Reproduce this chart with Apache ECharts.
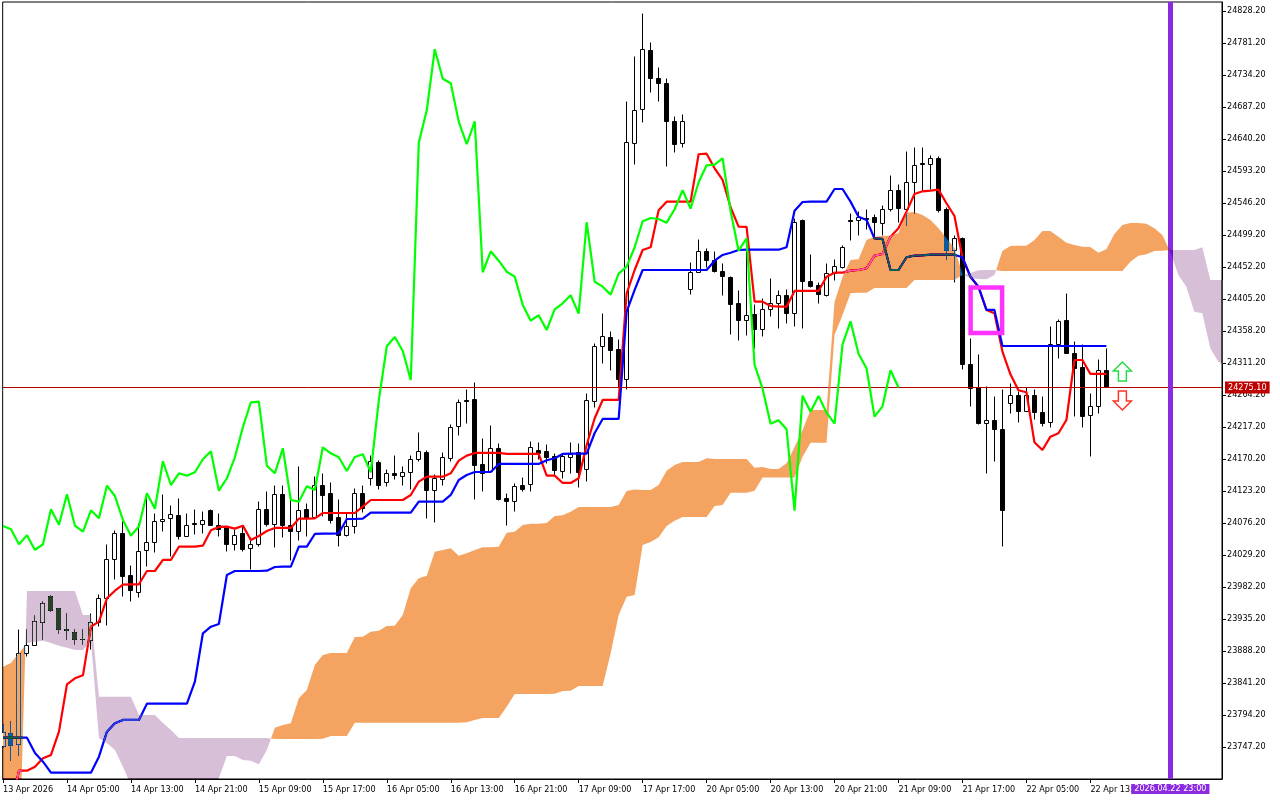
<!DOCTYPE html>
<html>
<head>
<meta charset="utf-8">
<style>html,body{margin:0;padding:0;background:#fff}#c{width:1280px;height:800px}</style>
<script src="https://cdn.jsdelivr.net/npm/echarts@6/dist/echarts.min.js"></script>
</head>
<body>
<div id="c"></div>
<script>
const opens = [23747.3,23767.3,23751.2,23884.3,23896,23930.4,23968.6,23949.9,23920,23914.7,23905.4,23903.4,23930.4,23965.6,24022.9,24061.1,23999.4,23973.9,24036.1,24047.9,24078.7,24083.1,24087.5,24056.7,24075.8,24074.3,
24094.9,24072.9,24069,24045,24060.1,24039.1,24045,24096.4,24073.7,24118.4,24072.9,24063.4,24095.3,24084,24130.6,24118.8,24083.6,24057.6,24070.8,24119.9,24141.9,24165.4,24135.4,24149.2,24144.2,24150.1,24169.8,24180.1,24123.7,24140.4,24170.7,24217.7,24256.4,24257.9,24162.5,24151.6,24186,24111.5,24107.5,24131.6,24132.5,24183,24180.5,24173.6,24151.6,24172.2,24180.1,24155.1,24255,24335.5,24349,24330.3,24286.3,24633.9,24683.9,24770.5,24729.4,24722.1,24666.2,24633.9,
24419.5,24444.5,24475.3,24462.1,24445.9,24437.1,24398.9,24374,24382.8,24360.7,24390.1,24398.3,24410.7,24383.7,24519.8,24431.2,24424.3,24410.7,24442,24452.2,24520.8,24520.2,24523.8,24524.2,24516.4,24536.4,24564.9,24536,24576.6,24603.5,24603.1,24611.9,24537,24476.2,24494.4,24309.3,24275.5,24222.7,24227.1,24213.9,24252,24263.8,24239.7,24262.8,24238.8,24224.2,24338.1,24374,24325.5,24304.9,24233.8,24247.6,24300.5];
const closes = [23767.8,23749.7,23884.9,23896,23930.8,23957.3,23948.4,23919.1,23917.6,23904.4,23904.4,23930.4,23965.6,24022.9,24061.1,23997.4,23976.8,24034.7,24047.9,24078.7,24081.7,24088.4,24055.7,24072.9,24074.3,24080.2,
24071.8,24067,24045,24058.2,24036.6,24045,24096.4,24073.7,24118.4,24072.3,24063.4,24094.9,24083.1,24131,24115.9,24080.6,24057.6,24071.4,24119.9,24097.2,24166.9,24132,24149.2,24145.7,24150.7,24169.8,24181.6,24123.7,24141.9,24172.7,24216.8,24253.5,24254.4,24160.4,24149.2,24186,24110,24107.5,24130.1,24124.7,24187.4,24178.6,24172.7,24152.6,24173.2,24177.1,24150.7,24256.4,24335.8,24349.4,24328.9,24286.3,24634.8,24682.4,24772,24728.8,24722.1,24665.7,24632.5,24666.2,
24444.5,24475.3,24461.5,24445.3,24438,24396.9,24373.4,24381.3,24359.7,24390.1,24398.9,24410.7,24383.7,24517.9,24430.6,24423.3,24411.6,24442.4,24452.7,24481.2,24519.4,24524.2,24522.7,24517.3,24537,24564.9,24537.9,24576.6,24601.6,24602.5,24611.9,24534.5,24476.2,24494.4,24308.3,24273.5,24222.1,24227.1,24213.9,24094.3,24263.2,24239.7,24262.8,24238.3,24222.1,24338.7,24372.5,24324.9,24303.5,24232.4,24247.6,24300.5,24275.1];
const highs = [23779.6,23784,23920.5,23919.1,23939.7,23960.2,23969,23949.9,23942.6,23920.5,23919.1,23942.6,23971.9,24043.9,24064.9,24078.2,24014.5,24074.8,24114.9,24089.5,24117.4,24101.2,24111.5,24089.5,24095.3,24092.8,
24095.3,24090.5,24070.4,24066,24070.8,24054.2,24107.5,24122.2,24132,24130.6,24110,24158.5,24104.2,24144.2,24148.2,24135,24110,24089.5,24126.2,24130.6,24174.7,24167.3,24154.1,24174.7,24158.9,24175.1,24208.4,24182,24146.8,24179.5,24221.6,24256.9,24271.6,24281.9,24199.6,24218.7,24193.3,24118.8,24133.5,24142.3,24195.6,24194.2,24190.8,24177.6,24176.1,24194.8,24192.3,24266.7,24339.2,24384.2,24357.2,24346,24696,24760.7,24823.8,24782.3,24745.6,24729.4,24673.6,24676.5,
24459.1,24491.9,24479.7,24475.3,24457.7,24438,24418,24474.3,24396.4,24406.3,24435.6,24417,24419.5,24523.8,24521.3,24469.9,24429.8,24457.7,24463.5,24483.1,24531.1,24533,24537,24528.6,24541.8,24585.9,24574.1,24622.2,24628,24628,24616.7,24614.2,24538.9,24498.8,24494.8,24347.5,24323,24276.4,24261.7,24272.6,24281.4,24269.1,24275.5,24271.6,24261.7,24364.6,24374.4,24413.6,24343.5,24338.7,24265.7,24315.7,24332.8];
const lows = [23745.8,23727.1,23734,23879.4,23895.6,23904.4,23945.5,23913.2,23904.4,23897.1,23897.1,23889.7,23923.5,23925.4,23992.5,23968,23960.6,23966.5,24012.1,24032.6,24063,24026.8,24052.3,24056.1,24058.6,24061.1,
24071.8,24056.1,24034.1,24035.6,24034.1,24007.2,24041.4,24070.8,24040,24054.7,24020.9,24050.3,24055.7,24082.1,24085.5,24074.8,24042.4,24056.1,24060.1,24091.4,24132,24124.7,24129.1,24139.4,24130.6,24125.7,24166.3,24082.1,24076.7,24132,24166.3,24204,24222.6,24110,24121.8,24149.7,24109,24071.8,24092.8,24121.8,24121.8,24168.8,24162.9,24146.3,24141.9,24149.2,24128.1,24136.9,24245.6,24309.8,24300,24274.5,24272.6,24602.5,24664.2,24708.2,24695,24599.6,24620.1,24627.5,
24411.1,24443.9,24451.2,24444.5,24410.1,24352.4,24344,24350.9,24332.8,24349.9,24379.3,24361.2,24368.5,24364.6,24361.2,24422.4,24397.9,24408.6,24431.7,24449.7,24490.9,24497.8,24506.6,24494.4,24499.2,24533.5,24517.3,24512.9,24531.1,24563.9,24566.4,24532.6,24463.5,24429.2,24302,24247.1,24220.2,24149.2,24166.3,24041.4,24237.4,24223.6,24239.7,24227.5,24217.7,24216.2,24317.6,24324.5,24232.4,24216.2,24174.6,24237.4,24275.1];
const tenkan = [23659.1,23659.1,23712.4,23712.4,23718.3,23730.6,23735.5,23769.7,23839.3,23848.1,23852.5,23923.9,23931.3,23965.6,23976.8,23985.6,23986.2,23986.2,24005.7,24005.7,24021.9,24021.9,24041.4,24041.4,24041.4,24042.9,24065.5,24070.4,24070.8,24067.9,24072.3,24051.3,24057.1,24064.5,24068.9,24068.9,24068.9,24082.6,24082.6,24083.1,24090.9,24090.9,24090.9,24090.9,24090.9,24100.2,24110,24110,24110,24110,24110,24117.4,24136.9,24144.2,24144.2,24144.2,24149.2,24167.8,24175.1,24179.1,24179.1,24179.1,24179.1,24177.6,24177.6,24177.6,24177.6,24177.6,24145.7,24145.7,24135,24135,24141.9,24190.8,24230,24256.9,24256.9,24256.9,24413.6,24447.8,24477.2,24481.2,24535.5,24548.2,24548.2,24548.2,24548.2,24617.8,24618.6,24597.2,24580,24539.9,24511.4,24511,24401.3,24401.3,24394.9,24393.9,24393.9,24417,24417,24417,24417,24438,24443.9,24443.9,24446.8,24447.8,24450.3,24468.8,24471.3,24496.8,24509.1,24533.5,24559.5,24563.4,24564.3,24565.8,24545.8,24527.1,24465.5,24437.6,24422.9,24389.1,24384.2,24327.9,24294.6,24271.1,24268.2,24194.8,24183.5,24203,24208,24227.5,24315.6,24315.6,24295.1,24295.1,24295.1];
const kijun = [23760.9,23760.9,23760.9,23760.9,23738.4,23725.6,23709.5,23709.5,23709.5,23709.5,23709.5,23709.5,23733,23769.7,23782,23786.9,23786.9,23786.9,23810.8,23810.8,23810.8,23810.8,23810.8,23810.8,23843.1,23914.2,23923.9,23927.9,23999.9,24005.7,24005.7,24005.7,24005.7,24006.2,24011.6,24012.1,24012.1,24041.4,24041.4,24060.1,24060.5,24060.5,24061.1,24082.1,24082.1,24082.6,24091.4,24091.4,24091.4,24091.4,24091.4,24091.4,24107.5,24107.5,24107.5,24107.5,24117.4,24139.4,24146.7,24151.1,24151.1,24151.1,24162.9,24162.9,24162.9,24162.9,24162.9,24162.9,24168.3,24171.3,24177.6,24178,24178,24178,24208.4,24229,24229,24229,24386.6,24418.5,24447.8,24447.8,24447.8,24447.8,24447.8,24447.8,24447.8,24447.8,24447.8,24461.5,24469.9,24473.2,24477.2,24477.6,24477.6,24477.6,24477.6,24477.6,24481.2,24534.9,24547.7,24548.2,24548.2,24548.2,24566.8,24566.8,24548.2,24526.1,24521.3,24494.1,24493.4,24447.8,24447.8,24466.5,24468.8,24469.4,24470.3,24470.3,24470.3,24470.3,24466.5,24438,24423.3,24389.1,24389.1,24336.2,24336.2,24336.2,24336.2,24336.2,24336.2,24336.2,24336.2,24336.2,24336.2,24336.2,24336.2,24336.2,24336.2];
const chikou = [24071.8,24067,24045,24058.2,24036.6,24045,24096.4,24073.7,24118.4,24072.3,24063.4,24094.9,24083.1,24131,24115.9,24080.6,24057.6,24071.4,24119.9,24097.2,24166.9,24132,24149.2,24145.7,24150.7,24169.8,24181.6,24123.7,24141.9,24172.7,24216.8,24253.5,24254.4,24160.4,24149.2,24186,24110,24107.5,24130.1,24124.7,24187.4,24178.6,24172.7,24152.6,24173.2,24177.1,24150.7,24256.4,24335.8,24349.4,24328.9,24286.3,24634.8,24682.4,24772,24728.8,24722.1,24665.7,24632.5,24666.2,24444.5,24475.3,24461.5,24445.3,24438,24396.9,24373.4,24381.3,24359.7,24390.1,24398.9,24410.7,24383.7,24517.9,24430.6,24423.3,24411.6,24442.4,24452.7,24481.2,24519.4,24524.2,24522.7,24517.3,24537,24564.9,24537.9,24576.6,24601.6,24602.5,24611.9,24534.5,24476.2,24494.4,24308.3,24273.5,24222.1,24227.1,24213.9,24094.3,24263.2,24239.7,24262.8,24238.3,24222.1,24338.7,24372.5,24324.9,24303.5,24232.4,24247.6,24300.5,24275.1];
const spanA = [23865.2,23870.6,23885.3,23900,23901.9,23903.4,23900,23896,23893.1,23889.7,23889.7,23903.4,23760.5,23753.1,23742.8,23718.3,23691.4,23669.4,23669.4,23669.4,23669.4,23669.4,23669.4,23669.4,23669.4,23669.4,23669.4,23701.7,23734,23734,23728.1,23727.1,23721.8,23742.8,
23775.6,23779.6,23782,23818.8,23831,23867.7,23882.4,23885.3,23885.3,23885.3,23908.8,23909.3,23916.6,23918.1,23925,23925.4,23941.1,23980.3,23995,23998.8,24034.1,24036.6,24039.1,24028.2,24031.7,24036.6,24040.5,24040.5,24041.4,24062,24063.4,24073.3,24075.2,24075.2,24076.2,24086.5,24087.5,24092.8,24099.7,24099.7,24099.7,24099.7,24099.7,24102.7,24123.2,24125.4,24124.7,24124.7,24132,24153,24161.4,24165.8,24165.8,24165.8,24171.3,24170.2,24170.2,24170.2,24170.2,24170.2,24157.5,24158.5,24155.6,24155.6,24163.9,24187.9,24212.8,24242.2,24242.2,24242.2,24400.8,24437.6,24462.5,24463.5,24491.9,24496.8,24497.8,24498.2,24502.2,24532,24533,24528.6,24521.3,24509.1,24494.4,24480.2,24441.9,24435.6,24434.6,24434.2,24440.5,24476.2,24483.1,24483.5,24483.5,24491.9,24505.1,24505.1,24496.8,24488,24484.6,24482.1,24481.6,24473.2,24478.2,24500.7,24513.9,24516.9,24516.9,24515.8,24509.1,24499.2,24474.3,24440.5,24423.3,24386.6,24384.2,24332.8,24313.1,24306.8];
const spanB = [23565.1,23565.1,23565.1,23976.4,23976.4,23976.4,23976.4,23976.4,23976.4,23976.4,23941.1,23941.1,23821.1,23821.1,23821.1,23821.1,23821.1,23794.2,23794.2,23794.2,23782.5,23772.2,23760.5,23760.5,23760.5,23760.5,23760.5,23760.5,23760.5,23760.5,23760.5,23760.5,23760.5,23760.5,
23759,23759,23759,23759,23759,23759,23759.4,23763.4,23763.4,23763.4,23782.9,23782.9,23782.9,23782.9,23782.9,23782.9,23782.9,23782.9,23782.9,23782.9,23782.9,23782.9,23782.9,23782.9,23783.5,23786.9,23789.8,23789.8,23789.8,23806.4,23825.1,23825.1,23825.1,23825.1,23825.1,23825.5,23829.5,23830,23836.8,23836.8,23836.8,23836.8,23884.9,23941.1,23968,23970.5,24043.9,24048.3,24055.2,24071.8,24079.6,24085,24085,24085,24085,24101.2,24102.7,24120.8,24120.8,24120.8,24123.7,24143,24143,24143,24143,24143,24173.6,24194.2,24194.2,24194.2,24352.4,24381.7,24413.6,24414.5,24414.5,24421.4,24421.4,24421.4,24421.4,24421.4,24433.1,24433.1,24433.1,24433.1,24433.1,24433.1,24440.5,24443.4,24447.4,24447.8,24447.8,24446.4,24446.4,24446.4,24446.4,24446.4,24446.4,24446.4,24446.4,24446.4,24446.4,24446.4,24446.4,24446.4,24446.4,24446.4,24446.4,24460,24468.8,24470.9,24475.7,24476.2,24477.2,24477.2,24477.2,24477.2,24481.2,24433.1,24433.1,24433.1];
const timeLabels = ["13 Apr 2026","14 Apr 05:00","14 Apr 13:00","14 Apr 21:00","15 Apr 09:00","15 Apr 17:00","16 Apr 05:00","16 Apr 13:00","16 Apr 21:00","17 Apr 09:00","17 Apr 17:00","20 Apr 05:00","20 Apr 13:00","20 Apr 21:00","21 Apr 09:00","21 Apr 17:00","22 Apr 05:00","22 Apr 13:00"];
const timeTicks = [0,8,16,24,32,40,48,56,64,72,80,88,96,104,112,120,128,136];
const priceTicks = [23747.2,23794.2,23841.2,23888.2,23935.2,23982.2,24029.2,24076.2,24123.2,24170.2,24217.2,24264.2,24311.2,24358.2,24405.2,24452.2,24499.2,24546.2,24593.2,24640.2,24687.2,24734.2,24781.2,24828.2];
const lastPrice = 24275.1;
const cursorBar = 146;
const cursorLabel = "2026.04.22 23:00";
const boxBars = [121.02,124.96];
const boxPrices = [24355.3,24422.2];
const arrowUp = [[140,24298.8]];
const arrowDown = [[140,24256.2]];

const FONT = '"DejaVu Sans Condensed","DejaVu Sans",sans-serif';
const xy = a => a.map((v,i)=>[i,v]);

function renderCandle(params, api){
  const i = api.value(0);
  const o=api.value(1), c=api.value(2), l=api.value(3), h=api.value(4);
  const snapX = Math.floor(api.coord([i,o])[0]) + 0.5;
  const snap = v => Math.floor(api.coord([i,v])[1]) + 0.5;
  const yo=snap(o), yc=snap(c), yh=snap(h), yl=snap(l);
  const top=Math.min(yo,yc), bot=Math.max(yo,yc);
  const up = c>o;
  return {type:'group',children:[
    {type:'line',shape:{x1:snapX,y1:yh,x2:snapX,y2:yl},style:{stroke:'#000',lineWidth:1}},
    {type:'rect',shape:{x:snapX-2,y:top,width:4,height:bot-top},style:{fill:up?'#fff':'#000',stroke:'#000',lineWidth:1}}
  ]};
}

function cloudRuns(){
  const runs=[]; let cur=null;
  const n=spanA.length;
  const push=(x,a,b,sign)=>{
    if(!cur||cur.sign!==sign){ cur={sign,up:[],dn:[]}; runs.push(cur); }
    cur.up.push([x,a]); cur.dn.push([x,b]);
  };
  for(let i=0;i<n;i++){
    const s=spanA[i]>=spanB[i]?1:-1;
    if(i>0){
      const ps=spanA[i-1]>=spanB[i-1]?1:-1;
      if(ps!==s){
        const d0=spanA[i-1]-spanB[i-1], d1=spanA[i]-spanB[i];
        const t=d0/(d0-d1);
        const x=i-1+t, v=spanA[i-1]+t*(spanA[i]-spanA[i-1]);
        push(x,v,v,ps); push(x,v,v,s);
      }
    }
    push(i,spanA[i],spanB[i],s);
  }
  return runs;
}
const runs = cloudRuns();
function renderCloud(params, api){
  return {type:'group',children:runs.map(r=>({
    type:'polygon',
    shape:{points:r.up.concat(r.dn.slice().reverse()).map(p=>api.coord(p))},
    // difference against the page: white -> orange/thistle, black -> blue/dark green, as in the terminal's XOR fill
    style:{fill:r.sign>0?'#0B5B9F':'#274027'}
  }))};
}
function renderBox(params, api){
  const a=api.coord([boxBars[0],boxPrices[1]]), b=api.coord([boxBars[1],boxPrices[0]]);
  return {type:'rect',shape:{x:a[0],y:a[1],width:b[0]-a[0],height:b[1]-a[1]},style:{fill:'none',stroke:'#FF33FF',lineWidth:4.5}};
}
const UP='path://M9 0 L18 9 L13 9 L13 19 L5 19 L5 9 L0 9 Z';
const DOWN='path://M5 0 L13 0 L13 10 L18 10 L9 19 L0 10 L5 10 Z';

const lineS=(name,data,color,z)=>({type:'line',name,data,showSymbol:false,symbol:'none',z,clip:true,
  lineStyle:{color,width:2.2},silent:true,animation:false});

const chart=echarts.init(document.getElementById('c'),null,{renderer:'canvas'});
chart.setOption({
  animation:false,
  backgroundColor:'#fff',
  grid:{left:2,top:2,right:58,bottom:21,show:true,borderColor:'#000',borderWidth:1,backgroundColor:'transparent'},
  xAxis:{type:'value',min:-0.04,max:152.46,splitLine:{show:false},
    axisLine:{show:true,onZero:false,lineStyle:{color:'#000'}},
    axisTick:{show:true,length:4,lineStyle:{color:'#000'},customValues:timeTicks},
    axisLabel:{color:'#000',fontFamily:FONT,fontSize:9,align:'left',margin:6,customValues:timeTicks,
      formatter:v=>timeLabels[timeTicks.indexOf(v)]}},
  yAxis:{type:'value',position:'right',min:23700.2,max:24841.42,scale:true,splitLine:{show:false},
    axisLine:{show:true,onZero:false,lineStyle:{color:'#000'}},
    axisTick:{show:true,length:4,lineStyle:{color:'#000'},customValues:priceTicks},
    axisLabel:{color:'#000',fontFamily:FONT,fontSize:9,margin:5,padding:[4,0,0,0],customValues:priceTicks,
      formatter:v=>v.toFixed(2)}},
  series:[
    {type:'custom',name:'candles',z:2,clip:true,silent:true,encode:{x:0,y:[1,2,3,4]},renderItem:renderCandle,
      data:opens.map((o,i)=>[i,o,closes[i],lows[i],highs[i]])},
    lineS('Tenkan-sen',xy(tenkan),'#FF0000',3),
    lineS('Kijun-sen',xy(kijun),'#0000FF',4),
    {type:'custom',name:'Kumo',z:5,clip:true,silent:true,blendMode:'difference',encode:{x:0,y:1},renderItem:renderCloud,data:[[0,24000]]},
    lineS('Chikou Span',xy(chikou),'#00FF00',6),
    {type:'custom',name:'box',z:7,clip:true,silent:true,encode:{x:0,y:1},renderItem:renderBox,data:[[boxBars[0],boxPrices[0]]]},
    {type:'scatter',name:'up',z:8,silent:true,symbol:UP,symbolSize:[18,19],data:arrowUp,
      itemStyle:{color:'#fff',borderColor:'#22dd44',borderWidth:1.5,opacity:1}},
    {type:'scatter',name:'down',z:8,silent:true,symbol:DOWN,symbolSize:[18,19],data:arrowDown,
      itemStyle:{color:'#fff',borderColor:'#ff3322',borderWidth:1.5,opacity:1}},
    {type:'line',name:'marks',z:9,data:[],silent:true,
      markLine:{silent:true,animation:false,symbol:'none',precision:2,data:[
        {yAxis:lastPrice,lineStyle:{color:'#B00000',width:1,type:'solid'},
         label:{show:true,position:'end',distance:3,formatter:lastPrice.toFixed(2),color:'#fff',backgroundColor:'#C00000',
           fontFamily:FONT,fontSize:9,padding:[2,3,0,3],lineHeight:10}},
        {xAxis:cursorBar,lineStyle:{color:'#8A2BE2',width:5,type:'solid'},
         label:{show:true,position:'start',distance:5,formatter:cursorLabel,color:'#fff',backgroundColor:'#8A2BE2',
           fontFamily:FONT,fontSize:9,padding:[0,3,0,3],lineHeight:10}}
      ]}}
  ]
});
</script>
</body>
</html>
